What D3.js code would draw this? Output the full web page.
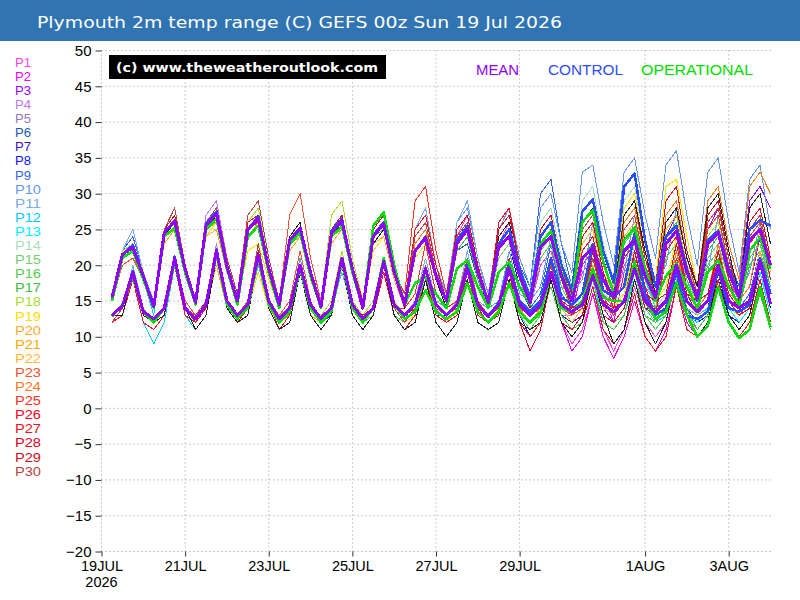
<!DOCTYPE html>
<html>
<head>
<meta charset="utf-8">
<script src="https://cdn.jsdelivr.net/npm/d3@7/dist/d3.min.js"></script>
<style>
  body { margin: 0; background: #fff; }
  text { font-family: "Liberation Sans", Arial, sans-serif; }
</style>
</head>
<body>
<svg id="chart"></svg>
<script>
// ---- data (6-hourly, 19 Jul 06z .. 4 Aug 00z) ----
const title = "Plymouth 2m temp range (C) GEFS 00z Sun 19 Jul 2026";
const runStart = Date.UTC(2026, 6, 19, 0);
const yTicks = [-20, -15, -10, -5, 0, 5, 10, 15, 20, 25, 30, 35, 40, 45, 50];
const xTickDays = ["2026-07-19", "2026-07-21", "2026-07-23", "2026-07-25", "2026-07-27", "2026-07-29", "2026-08-01", "2026-08-03"];
const xTickLabels = ["19JUL", "21JUL", "23JUL", "25JUL", "27JUL", "29JUL", "1AUG", "3AUG"];

const memberNames = ["P1","P2","P3","P4","P5","P6","P7","P8","P9","P10","P11","P12","P13","P14","P15",
                     "P16","P17","P18","P19","P20","P21","P22","P23","P24","P25","P26","P27","P28","P29","P30"];
const memberColors = ["#ff44dd","#ee00ee","#9900ff","#bb77ee","#9977bb","#2255bb","#3311bb","#1111ff","#3366ee","#6699ee",
                      "#77aaee","#00ccff","#00eeff","#aaddbb","#77cc77","#55cc55","#44bb44","#aadd33","#ffe000","#ffaa33",
                      "#ffaa00","#ffbb33","#ee5533","#ff7722","#ff3322","#ff0022","#ee1122","#dd0022","#cc1122","#bb4444"];

// 6h maximum temps per member
const membersMax = [
 [15,22,23,19,14,25,27,20,15,26,28,20,15,25,27,20,14,24,26,19,14,25,27,20,14,23,25,19,15,21,23,18,15,24,27,19,15,23,26,19,14,20,22,17,14,19,21,16,14,20,22,17,15,22,24,18,15,24,26,19,16,23,25,20],
 [15,21,22,18,14,24,26,19,15,26,28,20,15,24,26,19,14,22,24,18,14,24,26,19,14,24,26,19,14,22,24,18,15,23,25,19,14,25,28,20,15,24,26,19,13,20,22,16,12,19,21,15,13,21,23,17,14,23,25,18,15,22,24,18],
 [15,21,23,18,14,25,26,20,15,25,27,20,15,25,27,20,14,23,25,19,15,25,27,20,14,24,26,19,15,22,24,18,15,23,25,19,15,22,24,18,15,24,26,19,15,22,24,18,15,21,23,18,15,24,27,20,16,25,28,21,17,29,31,28],
 [15,22,24,19,15,25,27,20,15,27,29,21,16,26,28,20,15,24,26,19,14,24,26,19,15,25,27,20,15,23,25,19,16,24,26,20,15,23,25,19,15,22,24,18,16,23,25,19,16,28,30,22,17,25,27,20,16,24,26,19,16,24,26,20],
 [15,21,22,18,14,24,26,19,15,25,27,20,15,25,26,19,14,23,25,19,14,24,25,19,14,24,25,19,14,21,23,18,15,22,24,18,15,23,25,19,15,23,25,19,16,24,26,20,16,22,24,18,15,23,25,19,15,21,23,18,15,22,24,18],
 [15,21,22,18,14,24,25,19,15,25,27,20,15,24,26,19,14,23,25,18,14,25,27,20,14,24,26,19,15,23,25,19,15,22,23,18,14,22,24,18,15,25,27,20,15,24,26,19,16,25,27,20,15,24,26,19,15,23,25,19,15,24,26,19],
 [15,22,23,18,14,24,26,19,15,25,27,20,15,25,27,20,15,24,26,19,14,24,26,19,14,23,25,19,14,22,24,18,15,24,26,19,15,23,25,19,15,22,24,18,14,21,23,18,15,23,25,19,16,26,28,21,16,24,26,19,15,23,25,19],
 [15,21,22,18,14,24,26,19,15,26,27,20,15,25,26,19,14,23,24,18,14,24,26,19,14,24,26,19,14,22,24,18,15,24,26,19,14,21,23,17,14,22,24,18,15,23,25,19,15,24,26,19,16,24,26,19,14,22,24,18,14,23,25,19],
 [15,22,24,19,15,25,27,20,15,26,28,20,15,25,27,20,15,24,26,19,15,25,27,20,15,25,27,20,15,23,25,19,16,26,28,21,16,25,27,20,17,30,32,23,17,26,28,21,16,25,27,20,16,25,27,20,16,26,28,21,17,26,28,21],
 [15,22,23,19,15,25,27,20,15,26,28,20,15,25,27,20,15,24,26,19,14,25,27,20,15,24,26,19,15,24,26,19,16,26,28,21,16,25,28,21,17,28,30,23,19,33,34,26,20,33,35,27,21,34,36,27,20,33,35,26,19,32,34,25],
 [15,22,25,19,15,25,27,20,15,26,27,20,15,24,26,19,14,23,25,19,14,23,25,19,14,24,26,19,15,25,28,20,16,26,29,21,15,24,26,19,15,23,25,19,15,22,24,18,15,23,25,19,15,23,25,19,15,24,26,19,15,22,24,18],
 [15,21,22,18,13,24,26,19,15,25,27,19,15,24,26,19,14,23,25,19,14,24,26,19,14,24,26,19,14,23,25,19,15,24,26,19,15,24,26,19,15,23,25,18,14,22,24,18,14,22,24,18,15,23,25,19,15,23,25,19,15,23,25,19],
 [15,21,22,18,14,24,26,19,15,25,26,19,15,24,26,19,14,23,25,18,14,24,26,19,14,23,25,19,14,22,24,18,14,23,25,19,15,24,26,19,15,24,26,19,15,23,25,19,15,22,24,18,14,22,24,18,15,24,26,19,15,23,25,19],
 [15,21,22,18,14,23,25,19,15,25,26,19,15,25,27,20,15,24,26,19,14,24,26,19,14,23,25,19,15,23,25,19,15,24,26,19,15,24,26,20,16,26,28,21,17,29,31,23,18,29,31,23,17,27,29,21,16,25,27,20,16,25,27,20],
 [15,21,22,18,14,24,25,19,15,25,26,19,15,24,26,19,14,23,24,18,14,23,25,19,14,23,25,19,14,21,23,18,14,22,24,18,14,21,23,18,15,22,24,18,15,21,23,18,15,22,24,18,15,23,25,19,14,21,23,18,14,21,23,18],
 [15,21,22,18,14,24,26,19,15,25,27,20,15,25,26,19,14,23,25,19,14,24,25,19,14,23,25,18,14,22,24,18,15,23,25,19,15,22,24,18,14,21,23,17,14,22,24,18,15,23,25,19,14,21,23,18,14,20,22,17,14,21,23,17],
 [15,21,22,18,14,24,25,19,15,25,27,19,15,24,26,19,14,23,25,18,14,24,26,19,14,24,25,19,14,22,24,18,14,22,24,18,14,23,25,19,15,23,25,19,14,21,23,18,14,22,24,18,15,24,26,19,15,22,24,18,14,20,22,17],
 [15,22,23,19,14,24,26,19,15,25,27,20,15,26,28,20,15,24,26,19,15,27,29,21,15,25,27,20,15,23,25,19,15,24,26,19,15,23,25,19,15,24,26,19,16,25,27,20,16,24,26,20,16,25,27,20,16,24,26,19,15,24,26,19],
 [15,21,22,18,14,23,25,19,15,24,26,19,15,22,23,18,14,23,25,19,14,24,26,19,14,22,24,18,14,21,23,18,15,23,25,19,15,22,24,18,15,23,25,19,16,25,27,20,17,28,30,22,18,31,32,24,17,27,29,21,16,25,27,20],
 [15,21,22,18,14,23,25,19,15,24,25,19,15,24,26,19,14,22,24,18,14,23,25,19,14,23,24,18,14,23,25,19,15,25,27,20,15,24,26,19,15,24,26,19,16,25,27,20,16,24,26,19,15,26,28,21,16,25,27,20,16,26,28,21],
 [15,21,22,18,14,24,25,19,15,25,26,19,15,25,27,20,14,23,25,19,14,24,26,19,14,23,25,19,14,22,24,18,15,24,26,19,15,25,27,20,15,23,25,19,15,24,26,19,16,26,28,21,16,25,27,20,16,26,28,21,15,24,26,20],
 [15,21,23,18,14,24,26,19,15,26,27,20,15,25,26,19,14,23,25,19,14,24,26,19,14,24,26,19,15,24,26,19,15,24,26,19,15,23,25,19,15,24,26,19,15,23,25,19,16,25,27,20,16,27,29,21,16,26,28,21,16,25,27,20],
 [15,20,21,18,14,25,28,20,15,26,28,20,15,25,27,20,15,27,30,21,15,25,27,20,15,24,26,19,15,24,26,19,15,24,26,19,15,25,27,20,15,24,26,20,16,26,28,21,16,25,27,20,16,27,29,21,16,26,28,21,16,25,27,20],
 [15,21,23,18,14,25,27,20,15,26,28,20,15,25,27,20,15,24,26,19,14,24,26,19,15,24,26,19,15,23,25,19,15,24,26,20,15,25,27,20,15,24,26,20,16,25,27,20,16,26,28,21,16,27,29,21,17,29,31,23,18,31,33,30],
 [15,21,22,18,14,25,27,20,15,26,28,20,15,25,27,20,14,24,26,19,14,24,26,19,14,24,26,19,16,29,31,22,16,25,27,20,15,24,26,19,15,24,26,19,15,25,27,20,16,25,27,20,16,26,28,21,16,25,27,20,16,24,26,20],
 [15,21,22,18,14,25,27,20,15,26,28,20,15,26,27,20,14,24,26,19,14,25,27,20,14,24,26,19,15,25,27,20,15,25,27,20,15,26,28,20,15,25,27,20,15,26,28,21,16,27,29,21,16,26,28,21,16,27,29,21,16,26,28,21],
 [15,21,22,18,14,24,26,19,15,25,27,20,15,25,26,19,14,23,25,19,14,24,26,19,14,23,25,19,14,22,24,18,15,23,25,19,15,24,26,19,14,23,25,18,14,22,24,18,14,21,23,17,13,22,24,17,14,23,25,18,14,23,25,18],
 [15,21,22,18,14,25,27,20,15,26,28,20,15,25,27,20,14,24,26,19,14,25,27,20,14,24,26,19,15,24,26,19,15,25,27,20,15,24,26,19,14,23,25,18,15,24,26,19,15,25,27,20,16,26,28,21,16,27,29,21,15,25,27,20],
 [15,21,22,18,14,25,27,20,15,26,28,20,15,25,27,20,14,24,26,19,14,25,27,20,15,25,27,20,15,24,26,19,15,24,26,19,15,25,27,20,15,25,27,20,16,26,28,21,16,27,29,21,17,29,31,22,17,27,29,21,16,26,28,21],
 [15,21,22,18,14,25,28,20,15,26,28,21,16,27,29,21,15,24,26,19,14,24,26,19,14,24,26,19,15,24,26,19,15,24,26,19,15,24,26,19,15,24,26,19,15,25,27,20,16,25,27,20,16,26,28,21,16,26,28,21,16,25,27,20]
];

// 6h minimum temps per member
const membersMin = [
 [13,14,19,13,12,14,21,14,12,15,22,15,13,15,22,15,12,14,20,14,12,14,21,14,12,14,19,14,13,14,18,14,12,14,20,14,12,14,19,13,11,13,17,12,9,11,16,11,8,11,17,12,10,12,18,13,11,13,20,14,12,14,20,14],
 [13,14,18,13,12,14,21,14,13,14,22,15,13,14,21,14,12,13,19,14,12,14,21,14,12,14,20,14,12,14,19,14,13,14,19,14,12,14,20,13,11,12,18,12,8,10,16,10,7,10,15,10,8,11,17,12,10,12,18,13,11,13,19,13],
 [13,14,19,14,12,14,21,14,12,14,22,15,13,15,21,15,12,14,20,14,13,14,21,15,13,14,20,14,13,15,19,14,13,14,19,14,12,14,19,14,13,14,20,14,13,14,19,14,12,14,19,14,13,15,21,15,14,16,22,16,15,17,24,20],
 [13,14,19,14,12,14,21,14,13,15,23,15,13,15,22,15,12,14,20,14,12,14,20,14,13,14,21,15,13,15,19,14,13,15,20,14,13,14,19,14,12,14,18,13,13,14,19,14,14,15,22,16,14,15,20,15,13,15,20,14,13,15,20,15],
 [13,14,19,13,12,14,20,14,12,14,21,14,13,14,21,15,12,14,20,14,12,14,20,14,12,14,20,14,13,14,18,14,13,14,19,14,13,14,19,14,13,15,19,14,13,15,20,15,14,15,19,15,13,15,19,14,12,14,18,13,12,14,19,14],
 [13,14,19,13,12,14,20,14,12,14,22,15,13,14,21,14,12,13,19,14,12,14,21,14,12,14,20,14,13,14,19,14,13,14,18,13,12,13,18,13,12,14,20,14,12,14,20,14,13,15,21,15,13,14,20,14,12,14,19,14,13,14,20,14],
 [13,14,19,13,12,14,21,14,12,14,22,15,13,15,22,15,13,14,20,14,12,14,21,14,12,14,20,14,12,14,19,14,13,14,20,14,13,14,19,14,12,14,19,13,12,13,18,13,12,14,20,14,14,15,22,16,13,15,20,14,13,14,20,14],
 [13,14,18,13,12,14,21,14,12,14,22,15,13,14,21,14,12,14,19,13,12,13,20,14,12,14,20,14,12,14,19,13,13,14,20,14,12,13,18,13,10,12,18,13,11,13,19,13,12,14,20,14,13,14,20,14,12,13,18,13,12,14,19,14],
 [13,14,19,14,12,14,21,15,13,15,22,15,13,15,22,15,13,14,21,14,12,14,21,15,13,15,21,15,13,15,20,15,14,15,21,15,13,15,21,15,14,16,23,16,14,16,21,15,13,15,20,15,13,15,21,15,14,15,21,15,14,16,22,16],
 [13,14,19,14,12,14,21,15,13,15,22,15,13,15,22,15,13,14,21,14,12,14,21,15,13,14,20,15,13,15,20,15,14,15,21,15,14,15,22,16,15,17,24,17,16,18,26,18,17,19,27,19,18,20,28,19,17,19,27,19,16,19,26,18],
 [13,14,20,14,12,14,21,14,12,14,21,14,12,14,20,14,12,13,19,14,12,14,19,14,12,14,20,14,13,15,21,15,14,15,22,15,13,14,20,14,13,14,19,14,12,14,18,13,12,14,19,14,12,14,19,14,13,14,20,14,12,14,19,14],
 [12,13,18,12,9,12,20,13,11,13,21,14,12,14,21,14,12,13,19,13,11,13,20,13,11,13,19,13,12,13,19,13,12,14,20,13,12,13,19,13,12,13,18,13,11,13,18,12,11,13,19,13,12,13,19,13,12,14,19,14,12,14,19,13],
 [13,14,18,13,12,13,20,13,12,14,21,14,12,14,21,14,12,13,19,13,12,14,20,14,12,14,19,14,12,14,18,13,12,13,19,13,12,14,19,14,12,14,19,14,12,14,19,13,12,14,18,13,11,13,18,13,12,14,19,14,12,14,19,14],
 [13,14,18,13,12,14,20,14,12,14,21,14,13,14,22,15,13,14,20,14,12,14,20,14,12,14,20,14,13,14,19,14,13,14,20,14,13,14,20,15,14,15,21,15,14,16,23,16,15,16,23,16,14,16,22,15,14,15,21,15,14,15,21,15],
 [13,14,18,13,12,14,20,14,12,14,21,14,13,14,21,14,12,13,19,13,12,14,20,14,12,14,19,14,12,13,18,13,12,13,18,13,12,13,18,13,12,13,18,13,11,13,18,13,12,13,18,13,12,14,19,14,10,12,17,12,10,12,17,12],
 [13,14,18,13,12,14,21,14,12,14,22,15,13,14,21,14,12,14,19,14,12,14,20,14,12,13,19,13,12,14,19,13,12,14,19,14,12,13,18,13,11,13,17,12,11,13,18,13,12,14,19,13,11,13,18,13,10,12,17,12,10,12,17,11],
 [13,14,18,13,12,13,20,14,12,14,21,14,13,14,21,14,12,13,19,13,12,14,20,14,12,14,20,14,12,13,19,13,12,13,18,13,12,13,19,13,12,14,19,13,11,12,17,12,11,13,18,13,12,14,19,14,11,13,18,12,10,11,16,11],
 [13,14,19,14,12,14,20,14,12,14,21,15,13,15,22,15,13,14,20,14,13,15,22,15,13,15,21,15,13,14,19,14,13,14,20,14,13,14,19,14,13,14,20,14,13,15,21,15,14,15,20,15,14,15,21,15,13,15,20,14,13,14,20,14],
 [13,14,18,13,12,14,20,14,12,14,21,14,13,14,19,14,12,14,19,14,12,14,20,14,12,14,19,14,12,13,18,13,12,14,19,14,12,14,19,14,13,14,19,14,13,15,20,15,14,16,22,16,15,17,24,17,15,16,22,16,14,15,21,15],
 [13,14,18,13,12,14,20,14,12,14,20,14,13,14,21,14,12,13,19,13,12,14,20,14,12,14,19,14,12,14,19,14,13,14,21,14,13,14,20,14,13,14,20,14,13,15,21,15,13,15,20,14,13,15,22,15,14,15,21,15,14,15,22,15],
 [13,14,18,13,12,14,20,14,12,14,21,14,13,14,22,15,12,14,20,14,12,14,20,14,12,14,20,14,12,14,19,14,13,14,20,14,13,14,21,14,12,14,19,14,13,14,20,14,13,15,21,15,13,15,21,15,14,15,21,15,13,15,20,15],
 [13,14,19,13,12,14,21,14,12,14,22,15,13,14,21,14,12,14,20,14,12,14,20,14,12,14,20,14,13,14,20,14,13,14,20,14,13,14,19,14,13,14,20,14,12,14,19,14,13,15,21,15,14,15,22,15,14,15,21,15,13,15,21,15],
 [12,14,18,13,12,14,21,15,13,14,22,15,13,14,22,15,13,15,22,15,12,14,21,14,12,14,20,14,13,14,20,14,13,14,20,14,13,14,20,14,13,15,20,15,13,15,21,15,13,15,21,15,14,15,22,15,14,15,21,15,13,15,21,15],
 [13,14,19,13,12,14,21,14,12,14,22,15,13,15,22,15,12,14,20,14,12,14,20,14,12,14,20,14,13,14,19,14,13,14,20,14,13,14,20,14,13,14,20,14,13,15,21,15,13,15,21,15,14,15,22,16,14,16,23,16,15,17,25,21],
 [13,14,19,13,12,14,21,14,12,14,22,15,13,14,22,15,12,14,20,14,12,14,20,14,12,14,20,14,14,16,23,16,14,15,21,15,13,14,20,14,13,14,20,14,13,15,21,15,13,15,21,15,14,15,21,15,14,15,21,15,13,15,20,15],
 [12,13,19,13,12,14,21,14,12,14,22,15,13,14,22,15,12,14,20,14,12,14,21,14,12,14,20,14,13,14,20,14,13,14,21,14,13,14,21,15,13,14,20,14,13,15,21,15,14,15,22,15,14,15,21,15,14,15,22,15,14,15,21,15],
 [12,13,18,12,11,13,20,13,12,14,21,14,12,14,21,14,11,13,19,13,11,13,20,13,11,13,19,13,11,13,18,13,12,13,19,13,12,13,19,12,10,12,18,12,10,12,17,11,9,11,16,10,8,10,17,11,10,12,18,12,10,12,18,12],
 [12,14,19,13,12,14,21,14,12,14,22,15,13,14,22,15,11,13,20,14,12,14,21,14,12,14,20,14,12,14,20,14,13,14,20,14,12,13,19,12,8,11,18,12,11,13,19,13,12,14,20,14,13,14,21,15,14,15,21,15,13,14,20,14],
 [12,14,19,13,12,14,21,14,12,14,22,15,13,14,22,15,12,14,20,14,12,14,21,14,13,14,21,14,13,14,20,14,13,14,20,14,13,14,21,14,13,14,21,15,14,15,22,15,14,15,22,16,15,16,23,16,15,16,22,16,14,15,21,15],
 [12,14,19,13,12,14,21,14,13,15,22,15,13,15,23,15,12,14,20,14,12,14,20,14,12,14,20,14,12,14,20,14,13,14,20,14,13,14,20,14,13,14,20,14,13,14,21,15,13,15,21,15,14,15,21,15,14,15,21,15,14,15,21,15]
];

// unlabelled dark member seen on the chart
const extraMax = [15,21,22,18,14,24,26,19,15,25,27,20,15,25,27,20,14,24,26,19,14,24,26,19,14,23,25,19,14,22,24,18,14,23,25,19,15,24,26,19,15,24,26,19,15,26,28,21,16,27,29,22,16,26,28,21,17,28,30,22,16,28,30,23];
const extraMin = [13,13,19,13,12,13,21,14,11,13,21,14,12,13,21,14,11,12,19,13,11,13,20,13,11,13,20,13,11,12,18,12,10,12,18,12,11,12,18,12,11,12,18,12,10,12,19,13,9,11,18,12,9,12,19,13,10,12,19,13,11,13,20,14];

const meanMax = [15.5,21.5,22.5,18.5, 14.2,24.5,26.2,19.5, 14.8,25.5,27.2,19.8, 15.0,25.0,26.5,19.5, 14.5,23.5,25.2,19.0, 14.2,24.5,26.2,19.5, 14.0,24.0,25.8,19.0, 14.5,22.0,23.8,18.5,
                 15.0,23.0,25.0,19.0, 14.8,22.5,24.0,18.5, 14.8,22.5,24.0,18.5, 15.0,21.0,22.5,18.0, 15.5,22.0,23.5,18.5, 15.5,23.0,24.8,19.0, 15.5,23.0,24.5,19.0, 15.5,23.5,25.0,20.0];
const meanMin = [13.0,14.3,19.0,13.5, 12.5,14.0,21.0,14.0, 12.5,14.5,22.0,15.0, 13.0,14.5,21.5,15.0, 12.5,14.0,20.0,14.5, 12.5,14.0,21.0,14.5, 12.5,14.0,20.5,14.5, 13.0,14.5,19.5,14.5,
                 13.0,14.5,19.5,14.5, 12.8,14.5,19.5,14.5, 13.0,14.5,19.0,14.5, 13.5,14.5,18.5,14.5, 13.5,15.0,19.5,15.0, 13.5,15.0,20.0,15.0, 13.5,15.0,20.0,15.0, 14.0,15.0,20.5,14.6];
const ctrlMax = [15.3,21.5,22.8,18.5, 14.0,24.5,26.0,19.5, 14.8,25.8,27.5,20.0, 15.0,25.0,26.8,19.5, 14.5,23.5,25.0,19.0, 14.2,24.8,26.5,19.5, 14.0,24.2,26.0,19.0, 14.5,22.0,24.0,18.5,
                 15.0,23.5,25.5,19.0, 15.0,23.0,25.0,19.5, 15.5,24.0,26.0,20.0, 16.5,27.5,29.2,22.0, 17.5,31.0,32.8,23.5, 17.0,24.0,25.5,19.5, 15.0,23.5,24.8,19.5, 16.0,25.0,26.3,25.5];
const ctrlMin = [13.0,14.3,19.2,13.5, 12.5,14.0,21.2,14.0, 12.5,14.5,22.2,15.0, 13.0,14.5,21.5,15.0, 12.5,14.0,20.0,14.5, 12.5,14.0,21.0,14.5, 12.5,14.0,20.5,14.5, 13.0,14.5,19.5,14.5,
                 13.0,14.5,20.0,14.5, 13.0,14.5,20.0,15.0, 13.5,15.0,21.0,15.5, 14.5,16.0,23.0,16.5, 15.5,17.0,24.5,16.0, 13.0,14.0,19.0,13.0, 12.5,13.5,19.5,14.0, 13.5,14.5,21.0,16.0];
const opMax = [15.0,21.0,22.0,18.0, 14.0,24.0,25.2,19.0, 14.5,25.0,26.5,19.5, 14.5,24.0,25.5,19.0, 14.0,23.0,24.5,18.5, 14.0,24.0,25.5,19.0, 14.0,25.5,27.4,20.0, 14.5,17.5,18.3,16.0,
               14.0,19.5,20.7,17.0, 14.0,19.0,20.5,17.0, 14.5,23.0,24.8,19.0, 15.0,26.0,27.7,20.5, 16.0,23.5,25.3,19.5, 15.0,18.5,20.2,17.0, 14.0,19.0,20.7,17.0, 14.5,22.0,23.9,19.5];
const opMin = [12.8,14.5,18.5,13.5, 12.0,14.0,20.5,14.0, 12.5,14.5,21.5,14.5, 12.5,14.0,21.0,14.5, 12.0,13.5,19.5,14.0, 12.0,13.5,20.5,14.0, 12.0,14.0,21.0,14.5, 12.5,13.5,16.5,13.5,
               12.5,13.5,17.5,13.5, 12.0,13.5,17.5,13.5, 12.0,13.5,19.0,14.0, 13.5,15.0,19.5,15.5, 15.0,15.0,20.5,15.0, 12.5,13.5,17.5,13.0, 10.0,11.5,17.0,12.0, 9.8,11.0,17.0,11.3];

const headLabels = ["MEAN", "CONTROL", "OPERATIONAL"];
const headColors = ["#8f00ff", "#2a4dff", "#00dd00"];

// ---- drawing ----
const W = 800, H = 600;
const svg = d3.select("#chart").attr("width", W).attr("height", H)
  .style("display", "block").style("background", "#fff");

const times = meanMax.map((d, i) => new Date(runStart + (i + 1) * 6 * 3600 * 1000));

const x = d3.scaleUtc()
  .domain([new Date(runStart), new Date(runStart + 16 * 24 * 3600 * 1000)])
  .range([101.5, 770.5]);
const y = d3.scaleLinear().domain([-20, 50]).range([551.5, 50.5]);

// title bar
svg.append("rect").attr("x", 0).attr("y", 0).attr("width", W).attr("height", 41).attr("fill", "#3174b2");
svg.append("text").attr("x", 37).attr("y", 28).attr("fill", "#fff")
  .style("font-family", "'DejaVu Sans', sans-serif").style("font-size", "15px")
  .attr("textLength", 525).attr("lengthAdjust", "spacingAndGlyphs").text(title);

// grid
const tickDates = xTickDays.map(s => new Date(s + "T00:00Z"));
const grid = svg.append("g").attr("stroke", "#999").attr("stroke-dasharray", "1,3").attr("stroke-width", 1);
grid.selectAll(".h").data(yTicks).join("line")
  .attr("x1", x.range()[0]).attr("x2", x.range()[1])
  .attr("y1", d => y(d)).attr("y2", d => y(d));
grid.selectAll(".v").data(tickDates).join("line")
  .attr("x1", d => x(d)).attr("x2", d => x(d))
  .attr("y1", y(-20)).attr("y2", y(50));

// axes
const yAxis = svg.append("g").attr("transform", `translate(${x.range()[0]},0)`)
  .call(d3.axisLeft(y).tickValues(yTicks).tickSize(6).tickPadding(4).tickFormat(d => d < 0 ? "\u2212" + (-d) : d));
yAxis.select(".domain").remove();
yAxis.selectAll("text").style("font-size", "15px").attr("fill", "#000");
yAxis.selectAll("line").attr("stroke", "#333");

const xAxis = svg.append("g").attr("transform", `translate(0,${y(-20)})`)
  .call(d3.axisBottom(x).tickValues(tickDates).tickSize(5).tickPadding(4).tickFormat((d, i) => xTickLabels[i]));
xAxis.select(".domain").remove();
xAxis.selectAll("text").style("font-size", "14.5px").attr("fill", "#000");
xAxis.selectAll("line").attr("stroke", "#333");
svg.append("text").attr("x", x(tickDates[0])).attr("y", 587).attr("text-anchor", "middle")
  .style("font-size", "14.5px").text("2026");

// series
const line = d3.line().x((d, i) => x(times[i])).y(d => y(d));
const series = svg.append("g").attr("fill", "none").style("shape-rendering", "optimizeSpeed");
function drawPair(maxArr, minArr, color, width) {
  [maxArr, minArr].forEach(arr => {
    series.append("path").datum(arr).attr("d", line)
      .attr("stroke", color).attr("stroke-width", width).attr("stroke-linejoin", "round");
  });
}
membersMax.forEach((arr, k) => drawPair(arr, membersMin[k], memberColors[k], 1));
drawPair(extraMax, extraMin, "#222", 1);
drawPair(ctrlMax, ctrlMin, headColors[1], 2.5);
drawPair(opMax, opMin, headColors[2], 2.5);
drawPair(meanMax, meanMin, headColors[0], 3);

// member legend
svg.append("g").selectAll("text").data(memberNames).join("text")
  .attr("x", 15).attr("y", (d, i) => 66.7 + i * 14.1)
  .attr("fill", (d, i) => memberColors[i]).style("font-size", "12.5px")
  .attr("textLength", d => d.length > 2 ? 26 : 16).attr("lengthAdjust", "spacingAndGlyphs")
  .text(d => d);

// watermark box
svg.append("rect").attr("x", 109).attr("y", 55).attr("width", 277).attr("height", 24).attr("fill", "#000");
svg.append("text").attr("x", 116).attr("y", 72).attr("fill", "#fff")
  .style("font-family", "'DejaVu Sans', sans-serif").style("font-weight", "bold").style("font-size", "13px")
  .attr("textLength", 262).attr("lengthAdjust", "spacingAndGlyphs").text("(c) www.theweatheroutlook.com");

// series key
const keyX = [476, 548, 641], keyW = [43, 75, 112];
svg.append("g").selectAll("text").data(headLabels).join("text")
  .attr("x", (d, i) => keyX[i]).attr("y", 75).attr("fill", (d, i) => headColors[i])
  .style("font-size", "14px").attr("textLength", (d, i) => keyW[i]).attr("lengthAdjust", "spacingAndGlyphs")
  .text(d => d);
</script>
</body>
</html>
